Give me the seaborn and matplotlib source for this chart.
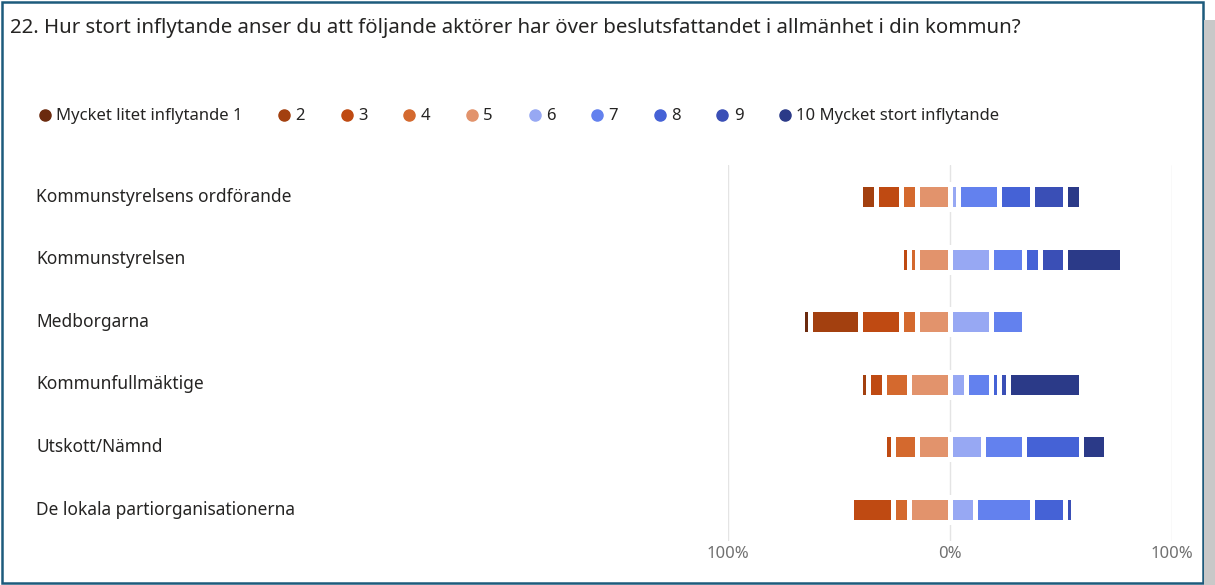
import numpy as np
import pandas as pd
import matplotlib
matplotlib.use("Agg")
import matplotlib.pyplot as plt
import matplotlib.transforms as mtransforms
from matplotlib.lines import Line2D
from matplotlib.patches import Rectangle
import seaborn as sns

title = "22. Hur stort inflytande anser du att följande aktörer har över beslutsfattandet i allmänhet i din kommun?"

actors = [
    "Kommunstyrelsens ordförande",
    "Kommunstyrelsen",
    "Medborgarna",
    "Kommunfullmäktige",
    "Utskott/Nämnd",
    "De lokala partiorganisationerna",
]

levels = ["Mycket litet inflytande 1", "2", "3", "4", "5",
          "6", "7", "8", "9", "10 Mycket stort inflytande"]

# share of answers (%) per level, one list per level, rows follow `actors`
s1 = [0.0, 0.0, 3.7, 0.0, 0.0, 0.0]
s2 = [7.4, 0.0, 22.2, 3.7, 0.0, 0.0]
s3 = [11.1, 3.7, 18.5, 7.4, 3.7, 18.5]
s4 = [7.4, 3.7, 7.4, 11.1, 11.1, 7.4]
s5 = [14.8, 14.8, 14.8, 18.5, 14.8, 18.5]
s6 = [3.7, 18.5, 18.5, 7.4, 14.8, 11.1]
s7 = [18.5, 14.8, 14.8, 11.1, 18.5, 25.9]
s8 = [14.8, 7.4, 0.0, 3.7, 25.9, 14.8]
s9 = [14.8, 11.1, 0.0, 3.7, 0.0, 3.7]
s10 = [7.4, 25.9, 0.0, 33.3, 11.1, 0.0]

colors = ["#6b2a0e", "#a3400f", "#bf4a12", "#d4692e", "#e2936c",
          "#97a8f3", "#6381ee", "#4562d6", "#3a4fb6", "#2b3a88"]

df = pd.DataFrame({"actor": actors})
series = [s1, s2, s3, s4, s5, s6, s7, s8, s9, s10]
for lev, vals in zip(levels, series):
    df[lev] = vals

sns.set_theme(style="white")
plt.rcParams["font.family"] = ["Noto Sans", "DejaVu Sans"]

fig = plt.figure(figsize=(12.15, 5.85), dpi=100)
ax = fig.add_axes([0.5992, 0.0755, 0.3654, 0.642])

# left side: levels 1-5 stacked outward from 0 (draw outermost first)
for i in range(5):
    cum = -df[levels[i:5]].sum(axis=1)
    sns.barplot(x=cum, y=df["actor"], orient="h", color=colors[i],
                width=0.4, edgecolor="white", linewidth=3.6,
                saturation=1, ax=ax)
# right side: levels 6-10 stacked outward from 0
for i in range(9, 4, -1):
    cum = df[levels[5:i + 1]].sum(axis=1)
    sns.barplot(x=cum, y=df["actor"], orient="h", color=colors[i],
                width=0.4, edgecolor="white", linewidth=3.6,
                saturation=1, ax=ax)

ax.set_xlim(-100, 100)
ax.set_ylim(5.5, -0.5)
for xv in [-100, 0, 100]:
    ax.axvline(xv, color="#e4e4e4", lw=1, zorder=0)
ax.set_xticks([-100, 0, 100])
ax.set_xticklabels(["100%", "0%", "100%"], color="#707070", fontsize=12)
ax.tick_params(axis="x", length=0, pad=4)
ax.set_yticks([])
ax.set_xlabel("")
ax.set_ylabel("")
for sp in ax.spines.values():
    sp.set_visible(False)
ax.set_facecolor("none")

trans = mtransforms.blended_transform_factory(fig.transFigure, ax.transData)
for i, name in enumerate(actors):
    ax.text(0.030, i, name, transform=trans, ha="left", va="center",
            fontsize=12.5, color="#252423")

fig.text(0.008, 0.952, title, ha="left", va="center", fontsize=14.7,
         color="#252423")

handles = [Line2D([], [], marker="o", ls="none", color=c, markersize=8)
           for c in colors]
fig.legend(handles, levels, loc="center left", bbox_to_anchor=(0.0205, 0.801),
           ncol=10, frameon=False, fontsize=12, handlelength=0.6,
           handletextpad=0.38, columnspacing=2.2, labelcolor="#252423")

# screenshot frame
fig.patches.append(Rectangle((0.002, 0.003), 0.988, 0.993, transform=fig.transFigure,
                             fill=False, edgecolor="#1d5b7c", lw=1.8))
fig.patches.append(Rectangle((0.991, 0.0), 0.009, 0.965, transform=fig.transFigure,
                             facecolor="#c8c8c8", edgecolor="none"))

fig.savefig("out.png", dpi=100, facecolor="white")
